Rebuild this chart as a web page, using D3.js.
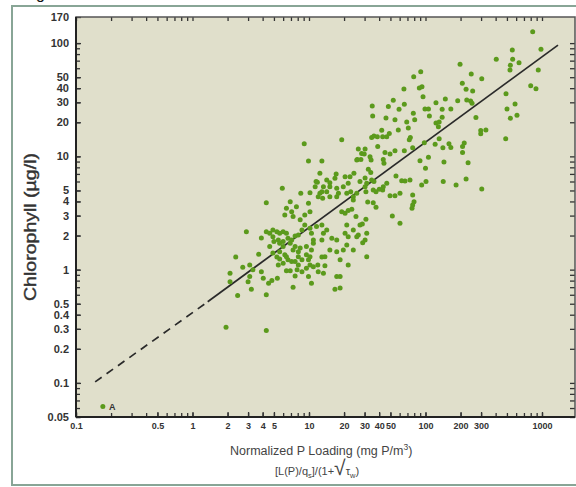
<!DOCTYPE html>
<html>
<head>
<meta charset="utf-8">
<script src="https://cdnjs.cloudflare.com/ajax/libs/d3/7.8.5/d3.min.js"></script>
<style>
body { margin: 0; background: #fff; }
</style>
</head>
<body>
<div class="chart"></div>
<script>
var width = 576;
var height = 487;

// normalized P loading (mg P/m3), chlorophyll (ug/l)
var lakes = [[0.17,0.062],[1.94,0.31],[4.3,0.29],[2.1,0.93],[2.35,1.29],[2.44,0.59],[2.7,1.05],[2.9,2.16],[3.1,1.1],[3.3,1.0],[3.0,0.78],[3.2,0.67],[3.1,0.87],[3.7,1.37],[3.9,0.96],[3.9,1.9],[4.3,2.16],[4.6,2.1],[4.3,0.6],[4.5,0.76],[4.8,0.8],[4.05,0.84],[4.3,3.9],[4.6,1.6],[4.9,1.4],[5.0,1.77],[5.3,1.29],[5.6,1.24],[5.45,1.1],[6.0,1.14],[5.6,1.44],[5.35,0.84],[4.9,2.24],[5.3,2.16],[5.6,2.1],[6.0,2.16],[4.9,1.95],[5.45,1.83],[6.0,1.77],[5.6,1.71],[6.0,1.6],[6.2,1.35],[6.4,0.98],[6.9,0.98],[7.3,0.7],[7.6,0.88],[8.1,1.1],[7.9,1.0],[7.1,1.18],[7.6,1.18],[6.6,1.22],[6.9,1.71],[7.6,1.6],[7.3,1.49],[6.6,1.89],[7.1,1.83],[6.4,2.1],[7.6,1.98],[8.1,2.02],[8.1,1.44],[8.4,1.55],[8.7,0.96],[8.7,1.22],[9.5,1.35],[9.9,1.22],[10.2,1.1],[9.5,1.6],[10.5,1.49],[10.9,1.71],[9.9,0.87],[10.5,0.76],[9.5,1.03],[10.9,1.06],[11.9,1.1],[12.9,1.29],[13.7,1.3],[13.7,1.08],[12.0,0.96],[13.3,0.93],[15.1,1.49],[17.3,1.44],[19.7,1.49],[24,1.49],[18.5,1.22],[21.7,1.1],[17.3,0.87],[16.7,0.67],[18.5,0.69],[28.9,1.73],[31.3,1.3],[30.3,1.83],[26.5,2.02],[27.4,2.48],[24,2.24],[20.4,2.1],[21.7,1.95],[25.7,1.95],[31.3,2.1],[21.1,1.65],[8.7,2.24],[9.2,2.48],[10.2,2.32],[10.5,2.1],[11.6,2.4],[12.9,2.48],[13.3,2.1],[14.2,2.24],[15.7,1.89],[17.3,1.83],[12.9,1.83],[10.9,1.83],[6.2,3.04],[6.9,3.98],[7.8,3.6],[7.1,3.25],[6.4,3.48],[7.3,2.94],[8.4,2.75],[9.2,3.04],[10.2,3.25],[9.9,3.86],[5.9,5.23],[8.5,4.72],[9.9,9.1],[12.9,9.1],[11.8,5.9],[14.2,6.2],[17.1,7.0],[20.4,6.6],[24.3,7.1],[15.1,5.4],[13.3,5.4],[12.4,4.72],[14.2,4.88],[13.1,4.27],[15.1,4.41],[17.3,4.41],[21.1,4.72],[22.8,4.88],[25.7,4.72],[24,4.41],[31.3,5.8],[30.3,6.45],[25.7,9.3],[28.3,10.6],[12.4,7.1],[16.7,6.4],[22.5,6.6],[27.4,6.0],[30.3,5.4],[21.7,5.8],[19.7,5.4],[17.3,5.23],[12.0,4.41],[11.3,5.4],[9.1,12.9],[19.1,14.0],[11.5,6.0],[15.1,5.86],[12.9,4.88],[17.9,4.72],[32.3,7.7],[33.9,7.2],[34.5,6.2],[36.1,6.0],[40.1,5.13],[42.9,5.05],[37.6,4.88],[43.4,5.4],[10.2,4.78],[35.6,5.05],[30.8,4.88],[49.6,4.5],[54.7,4.5],[77.6,4.56],[79.7,3.98],[77.6,3.72],[76.6,3.48],[31.9,3.96],[35.6,3.9],[37.6,3.56],[24,4.12],[19.1,3.25],[20.4,3.15],[21.7,3.32],[23.3,3.41],[25.3,2.94],[30.8,2.79],[28.7,2.53],[51.9,2.98],[60.4,2.57],[21.1,2.48],[18.5,0.87],[46.5,5.8],[66.7,6.07],[73.6,6.2],[92.7,5.6],[101,6.0],[142,6.0],[183,5.6],[223,6.3],[304,5.16],[62.5,6.1],[60.4,4.72],[55.8,6.7],[100,7.85],[89.7,9.16],[106,9.8],[144,8.9],[232,8.8],[43.4,9.4],[44,8.7],[44.9,10.8],[49.6,10.5],[54.7,11.2],[65.8,11.2],[77.6,11.9],[97.7,13.2],[121,12.8],[141,11.9],[159,12.9],[165,12.0],[215,13.1],[208,12.2],[208,10.8],[131,14.3],[74.1,14.7],[72.6,14.0],[42.9,14.9],[46.5,14.9],[42.1,17.0],[48.9,15.9],[58.4,17.1],[71.2,17.8],[298,16.9],[330,17.1],[298,15.8],[488,14.3],[123,19.7],[129,18.3],[139,22.1],[131,20.1],[45.8,21.8],[54.7,21.0],[69,20.1],[80.8,21.0],[78.6,24.0],[108,22.7],[271,22.0],[535,21.7],[610,23.1],[501,26.2],[587,29.0],[491,35.7],[48,27.5],[59.3,26.0],[99,26.2],[106,26.2],[139,26.0],[165,26.2],[123,29.8],[52.9,31.3],[65.8,28.8],[95.2,33.6],[148,32.1],[189,31.0],[226,31.5],[244,30.8],[251,29.4],[65.3,39.4],[88.5,40.2],[93.3,41.2],[223,39.1],[254,37.8],[79.2,50.5],[91,55.9],[207,44.2],[304,48.5],[247,53.4],[198,65.0],[800,42.1],[888,39.6],[929,57.9],[531,57.9],[535,63.7],[635,67.1],[560,71.9],[405,71.9],[556,86.9],[980,88.2],[832,126],[34.9,27.9],[35.2,22.7],[34.5,14.7],[36.1,15.1],[38.6,14.9],[26.5,11.6],[30.3,11.6],[29.8,10.5],[33.4,9.9],[34.1,9.3],[26,9.4],[27.9,9.4],[38.9,12.2],[8.1,1.3],[10.2,1.3],[2.1,0.78],[6.4,1.3]];

// regression line, dashed below the data range
var fitDashed = [[0.146,0.102],[1.35,0.52]];
var fitSolid = [[1.35,0.52],[1372,96]];

var marker = [[0.205,0.058]];

var yTicks = [0.05,0.1,0.2,0.3,0.4,0.5,1,2,3,4,5,10,20,30,40,50,100,170];
var xTicks = [0.1,0.5,1,2,3,4,5,10,20,30,40,50,100,200,300,1000];

var svg = d3.select('.chart')
	.append('svg')
	.attr('width', width)
	.attr('height', height)
	.style('font-family', "'Liberation Sans', Arial, sans-serif")

var plotLeft = 76, plotRight = 575, plotTop = 17, plotBottom = 417;

var x = d3.scaleLog().domain([0.1, 1920]).range([plotLeft, plotRight])
var y = d3.scaleLog().domain([0.05, 170]).range([plotBottom, plotTop])

function minorTicks(scale){
	var d = scale.domain(), out = []
	for (var p = -3; p <= 4; p++) {
		for (var k = 1; k <= 9; k++) {
			var v = +(k * Math.pow(10, p)).toPrecision(3)
			if (v >= d[0] && v <= d[1]) out.push(v)
		}
	}
	return out
}

// outer frame of the figure
svg.append('rect')
	.attr('x', 12)
	.attr('y', 6)
	.attr('width', 620)
	.attr('height', 479)
	.attr('fill', 'none')
	.attr('stroke', '#88a596')
	.attr('stroke-width', 2)

svg.append('text')
	.attr('x', 36)
	.attr('y', -1)
	.attr('font-size', 16)
	.attr('fill', '#111')
	.text('g')

// plot background
svg.append('rect')
	.attr('x', plotLeft)
	.attr('y', plotTop)
	.attr('width', plotRight - plotLeft)
	.attr('height', plotBottom - plotTop)
	.attr('fill', '#e0dfcb')

// minor ticks on all four sides
svg.append('g').attr('class', 'minor')
	.attr('transform', 'translate(' + plotLeft + ',0)')
	.call(d3.axisLeft(y).tickValues(minorTicks(y)).tickSize(-4).tickFormat(''))
svg.append('g').attr('class', 'minor')
	.attr('transform', 'translate(' + plotRight + ',0)')
	.call(d3.axisRight(y).tickValues(minorTicks(y)).tickSize(-5).tickFormat(''))
svg.append('g').attr('class', 'minor')
	.attr('transform', 'translate(0,' + plotBottom + ')')
	.call(d3.axisBottom(x).tickValues(minorTicks(x)).tickSize(-4).tickFormat(''))
svg.append('g').attr('class', 'minor')
	.attr('transform', 'translate(0,' + plotTop + ')')
	.call(d3.axisTop(x).tickValues(minorTicks(x)).tickSize(-4).tickFormat(''))

// labelled axes
svg.append('g').attr('class', 'yaxis')
	.attr('transform', 'translate(' + plotLeft + ',0)')
	.call(d3.axisLeft(y).tickValues(yTicks).tickSize(-5).tickPadding(7).tickFormat(function(d){ return d }))
	.selectAll('text')
	.attr('font-size', 11)
	.attr('font-weight', 'bold')
	.attr('fill', '#333')

svg.append('g').attr('class', 'xaxis')
	.attr('transform', 'translate(0,' + plotBottom + ')')
	.call(d3.axisBottom(x).tickValues(xTicks).tickSize(-5).tickPadding(6).tickFormat(function(d){ return d }))
	.selectAll('text')
	.attr('font-size', 9)
	.attr('font-weight', 'bold')
	.attr('fill', '#333')

svg.selectAll('.domain').remove()
svg.selectAll('.tick line')
	.attr('stroke', '#333')
	.attr('stroke-width', 1.3)

// plot border
svg.append('rect')
	.attr('x', plotLeft)
	.attr('y', plotTop)
	.attr('width', plotRight - plotLeft)
	.attr('height', plotBottom - plotTop)
	.attr('fill', 'none')
	.attr('stroke', '#555')
	.attr('stroke-width', 1.5)

svg.append('line')
	.attr('x1', plotLeft).attr('x2', plotLeft)
	.attr('y1', plotTop).attr('y2', plotBottom)
	.attr('stroke', '#222')
	.attr('stroke-width', 2)
svg.append('line')
	.attr('x1', plotLeft).attr('x2', plotRight)
	.attr('y1', plotBottom).attr('y2', plotBottom)
	.attr('stroke', '#222')
	.attr('stroke-width', 2)

var line = d3.line()
	.x(function(d){ return x(d[0]) })
	.y(function(d){ return y(d[1]) })

svg.append('path')
	.datum(fitDashed)
	.attr('d', line)
	.attr('fill', 'none')
	.attr('stroke', '#2a2a2a')
	.attr('stroke-width', 1.7)
	.attr('stroke-dasharray', '8,6')

svg.append('path')
	.datum(fitSolid)
	.attr('d', line)
	.attr('fill', 'none')
	.attr('stroke', '#2a2a2a')
	.attr('stroke-width', 1.7)

svg.selectAll('.lake')
	.data(lakes)
	.enter().append('circle')
	.attr('class', 'lake')
	.attr('r', 2.5)
	.attr('cx', function(d){ return x(d[0]) })
	.attr('cy', function(d){ return y(d[1]) })
	.attr('fill', '#5b9a1c')

svg.selectAll('.marker')
	.data(marker)
	.enter().append('text')
	.attr('class', 'marker')
	.attr('x', function(d){ return x(d[0]) })
	.attr('y', function(d){ return y(d[1]) })
	.attr('text-anchor', 'middle')
	.attr('font-size', 9)
	.attr('font-weight', 'bold')
	.attr('fill', '#333')
	.text('A')

// axis titles
svg.append('text')
	.attr('transform', 'translate(36,227) rotate(-90)')
	.attr('text-anchor', 'middle')
	.attr('font-size', 17)
	.attr('fill', '#333')
	.attr('stroke', '#333')
	.attr('stroke-width', 0.4)
	.attr('textLength', 148)
	.attr('lengthAdjust', 'spacingAndGlyphs')
	.text('Chlorophyll (\u00b5g/l)')

var xt = svg.append('text')
	.attr('x', 230)
	.attr('y', 455)
	.attr('font-size', 12.5)
	.attr('fill', '#444')
xt.append('tspan').text('Normalized P Loading (mg P/m')
xt.append('tspan').attr('dy', -5).attr('font-size', 8.5).text('3')
xt.append('tspan').attr('dy', 5).text(')')

var xt2 = svg.append('text')
	.attr('x', 275)
	.attr('y', 475)
	.attr('font-size', 11)
	.attr('fill', '#444')
xt2.append('tspan').text('[L(P)/q')
xt2.append('tspan').attr('dy', 3).attr('font-size', 7.5).text('s')
xt2.append('tspan').attr('dy', -3).text(']/(1+')
xt2.append('tspan').attr('font-size', 21).text('\u221a')
xt2.append('tspan').text('\u03c4')
xt2.append('tspan').attr('dy', 3).attr('font-size', 7.5).text('w')
xt2.append('tspan').attr('dy', -3).text(')')
</script>
</body>
</html>
